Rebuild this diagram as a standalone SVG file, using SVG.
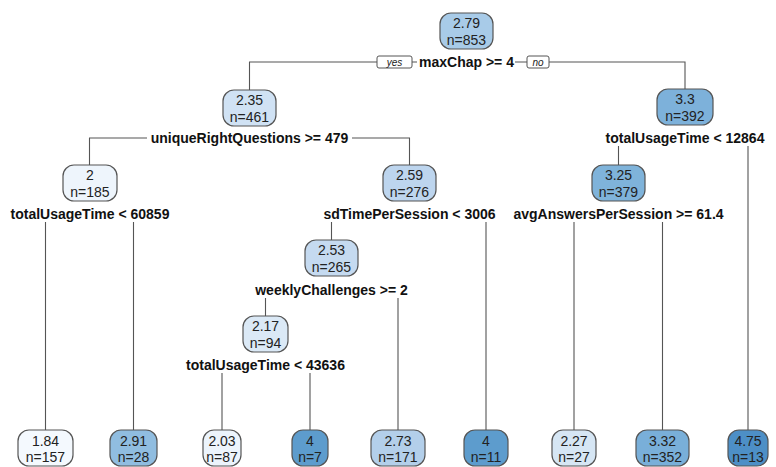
<svg xmlns="http://www.w3.org/2000/svg" width="776" height="467" viewBox="0 0 776 467">
<style>
.box{stroke:#555;stroke-width:1.2}
.num{font-family:"Liberation Sans",Arial,sans-serif;font-size:14px;fill:#222;text-anchor:middle}
.lab{font-family:"Liberation Sans",Arial,sans-serif;font-size:14px;font-weight:bold;fill:#111;text-anchor:middle}
.yn{font-family:"Liberation Sans",Arial,sans-serif;font-size:10px;font-style:italic;fill:#222;text-anchor:middle}
.ynb{fill:#fff;stroke:#555;stroke-width:1}
.con{stroke:#555;stroke-width:1.1;fill:none}
</style>
<rect width="776" height="467" fill="#fff"/>
<g id="connectors">
<path class="con" d="M249.5 90V62H377M412 62H417M515 62H527M549 62H685V89"/>
<path class="con" d="M89.5 165V138H147M352 138H409.5V165"/>
<path class="con" d="M618.5 146V166M748 146V430"/>
<path class="con" d="M45.5 222V430M133.5 222V430"/>
<path class="con" d="M331.5 222V240M486 222V430"/>
<path class="con" d="M574 222V430M662.5 222V430"/>
<path class="con" d="M265.5 298V316M398 298V430"/>
<path class="con" d="M222 373V430M310 373V430"/>
</g>
<g id="yesno">
<rect class="ynb" x="377" y="56" width="35" height="12" rx="2"/>
<text class="yn" x="394.5" y="65.5">yes</text>
<rect class="ynb" x="527" y="56" width="22" height="12" rx="2"/>
<text class="yn" x="538" y="65.5">no</text>
</g>
<g id="n1">
<rect class="box" x="440" y="13" width="53" height="36" rx="11" fill="#a8cbe8"/>
<text class="num" x="466.5" y="28">2.79</text><text class="num" x="466.5" y="45">n=853</text>
<text class="lab" x="466.5" y="67">maxChap &gt;= 4</text>
</g>
<g id="n2">
<rect class="box" x="223" y="90" width="53" height="36" rx="11" fill="#d0e2f4"/>
<text class="num" x="249.5" y="105">2.35</text><text class="num" x="249.5" y="122">n=461</text>
<text class="lab" x="249.5" y="143">uniqueRightQuestions &gt;= 479</text>
</g>
<g id="n3">
<rect class="box" x="657" y="89" width="56" height="36" rx="11" fill="#7db1da"/>
<text class="num" x="685" y="104">3.3</text><text class="num" x="685" y="121">n=392</text>
<text class="lab" x="685" y="143">totalUsageTime &lt; 12864</text>
</g>
<g id="n4">
<rect class="box" x="63" y="165" width="54" height="36" rx="11" fill="#eef5fc"/>
<text class="num" x="90" y="180">2</text><text class="num" x="90" y="197">n=185</text>
<text class="lab" x="90" y="219">totalUsageTime &lt; 60859</text>
</g>
<g id="n5">
<rect class="box" x="383" y="165" width="53" height="36" rx="11" fill="#bdd5ee"/>
<text class="num" x="409.5" y="180">2.59</text><text class="num" x="409.5" y="197">n=276</text>
<text class="lab" x="409.5" y="219">sdTimePerSession &lt; 3006</text>
</g>
<g id="n6">
<rect class="box" x="592" y="165" width="53" height="36" rx="11" fill="#7fb3da"/>
<text class="num" x="618.5" y="180">3.25</text><text class="num" x="618.5" y="197">n=379</text>
<text class="lab" x="618.5" y="219">avgAnswersPerSession &gt;= 61.4</text>
</g>
<g id="n7">
<rect class="box" x="305" y="240" width="53" height="36" rx="11" fill="#c5daf0"/>
<text class="num" x="331.5" y="255">2.53</text><text class="num" x="331.5" y="272">n=265</text>
<text class="lab" x="331.5" y="295">weeklyChallenges &gt;= 2</text>
</g>
<g id="n8">
<rect class="box" x="243" y="316" width="45" height="36" rx="11" fill="#dbe9f6"/>
<text class="num" x="265.5" y="331">2.17</text><text class="num" x="265.5" y="348">n=94</text>
<text class="lab" x="265.5" y="370">totalUsageTime &lt; 43636</text>
</g>
<g id="l1"><rect class="box" x="18" y="430" width="55" height="36" rx="11" fill="#f4f9fe"/>
<text class="num" x="45.5" y="446">1.84</text><text class="num" x="45.5" y="462">n=157</text></g>
<g id="l2"><rect class="box" x="110" y="430" width="47" height="36" rx="11" fill="#90bde0"/>
<text class="num" x="133.5" y="446">2.91</text><text class="num" x="133.5" y="462">n=28</text></g>
<g id="l3"><rect class="box" x="203" y="430" width="38" height="36" rx="11" fill="#ecf4fc"/>
<text class="num" x="222" y="446">2.03</text><text class="num" x="222" y="462">n=87</text></g>
<g id="l4"><rect class="box" x="292" y="430" width="36" height="36" rx="11" fill="#5d9ccd"/>
<text class="num" x="310" y="446">4</text><text class="num" x="310" y="462">n=7</text></g>
<g id="l5"><rect class="box" x="371" y="430" width="54" height="36" rx="11" fill="#b3cfea"/>
<text class="num" x="398" y="446">2.73</text><text class="num" x="398" y="462">n=171</text></g>
<g id="l6"><rect class="box" x="464" y="430" width="44" height="36" rx="11" fill="#5d9ccd"/>
<text class="num" x="486" y="446">4</text><text class="num" x="486" y="462">n=11</text></g>
<g id="l7"><rect class="box" x="552" y="430" width="44" height="36" rx="11" fill="#d6e6f4"/>
<text class="num" x="574" y="446">2.27</text><text class="num" x="574" y="462">n=27</text></g>
<g id="l8"><rect class="box" x="636" y="430" width="53" height="36" rx="11" fill="#79afd9"/>
<text class="num" x="662.5" y="446">3.32</text><text class="num" x="662.5" y="462">n=352</text></g>
<g id="l9"><rect class="box" x="728" y="430" width="40" height="36" rx="11" fill="#4d8fc6"/>
<text class="num" x="748" y="446">4.75</text><text class="num" x="748" y="462">n=13</text></g>
</svg>
